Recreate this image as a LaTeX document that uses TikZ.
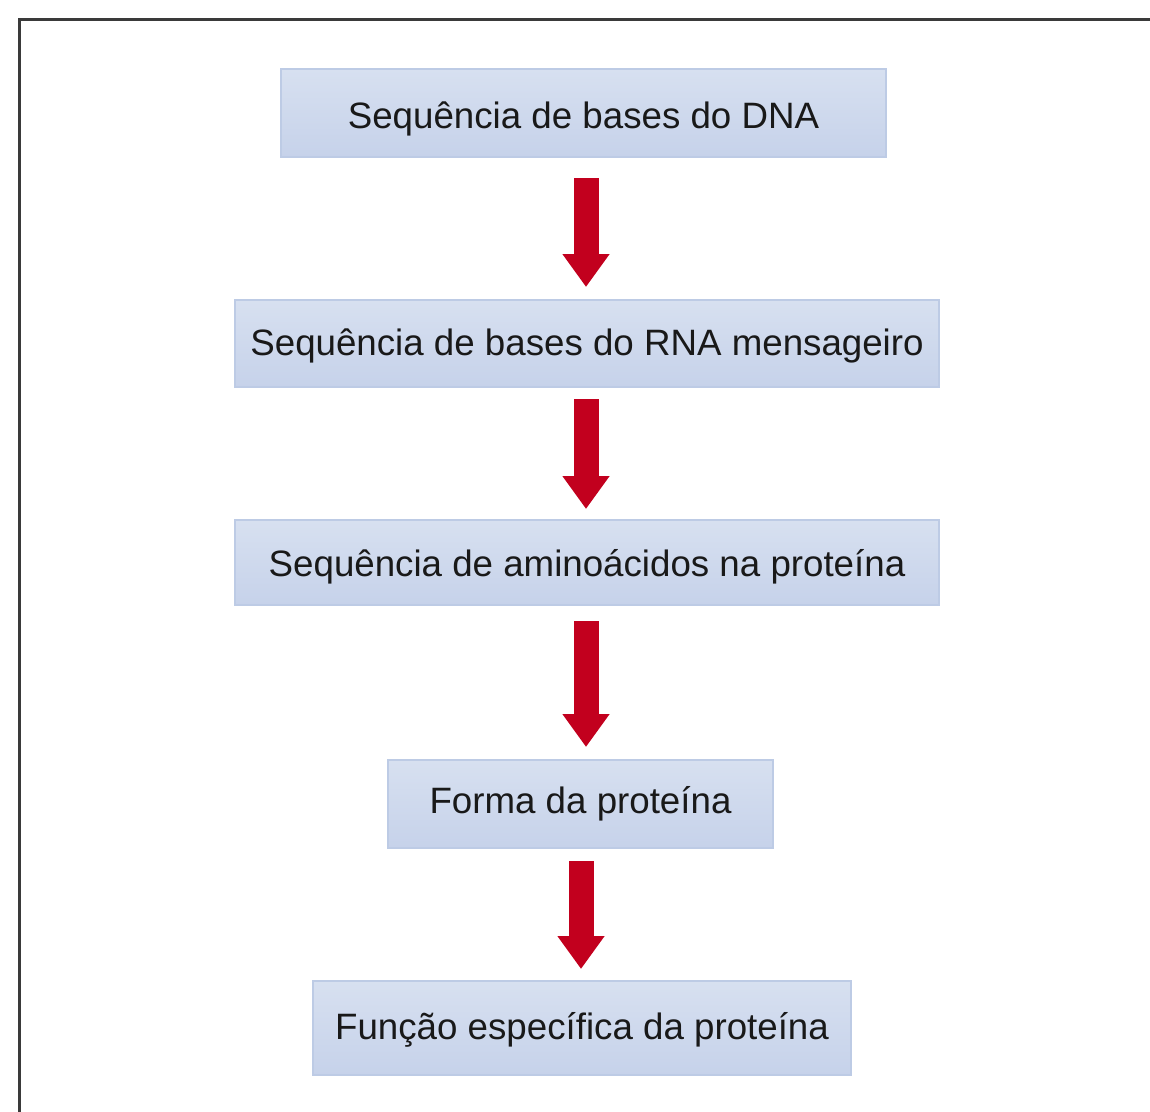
\documentclass[tikz,border=0pt]{standalone}
\usepackage{fontspec}
\setmainfont{Liberation Sans}
\usetikzlibrary{arrows.meta}
\definecolor{boxtop}{HTML}{D7E0F0}
\definecolor{boxbot}{HTML}{C6D2EA}
\definecolor{boxline}{HTML}{BDCBE5}
\definecolor{arrred}{HTML}{C2001E}
\definecolor{framecol}{HTML}{3A3A3A}
\newcommand{\lowertext}[2]{\raisebox{-#1}[\height][\depth]{#2}}
\begin{document}
\begin{tikzpicture}[x=1pt,y=-1pt,
  stepbox/.style={draw=boxline, line width=2pt, top color=boxtop, bottom color=boxbot,
    inner sep=0pt, font=\fontsize{36.7}{44}\selectfont, text=black!90},
  flow/.style={draw=arrred, line width=25pt, -{Triangle[width=45pt,length=33pt]}}]
\useasboundingbox (0,0) rectangle (1150,1111);
\fill[white] (0,0) rectangle (1150,1111);
\draw[framecol, line width=3pt, line join=miter] (19,1125) -- (19,19) -- (1165,19);

\node[stepbox, minimum width=605pt, minimum height=88pt] (b1) at (583.5,113) {\lowertext{6pt}{Sequência de bases do DNA}};
\node[stepbox, minimum width=704pt, minimum height=87pt] (b2) at (587,343.5) {\lowertext{2pt}{Sequência de bases do RNA mensageiro}};
\node[stepbox, minimum width=704pt, minimum height=85pt] (b3) at (587,562.5) {\lowertext{4pt}{Sequência de aminoácidos na proteína}};
\node[stepbox, minimum width=385pt, minimum height=88pt] (b4) at (580.5,804) {Forma da proteína};
\node[stepbox, minimum width=538pt, minimum height=94pt] (b5) at (582,1028) {\lowertext{2pt}{Função específica da proteína}};

\draw[flow, shorten <=20pt, shorten >=12pt] ([xshift=2.5pt]b1.south) -- ([xshift=-1pt]b2.north);
\draw[flow, shorten <=11pt, shorten >=10pt] ([xshift=-1pt]b2.south) -- ([xshift=-1pt]b3.north);
\draw[flow, shorten <=15pt, shorten >=12pt] ([xshift=-1pt]b3.south) -- ([xshift=5.5pt]b4.north);
\draw[flow, shorten <=12pt, shorten >=11pt] ([xshift=0.5pt]b4.south) -- ([xshift=-1pt]b5.north);
\end{tikzpicture}
\end{document}
